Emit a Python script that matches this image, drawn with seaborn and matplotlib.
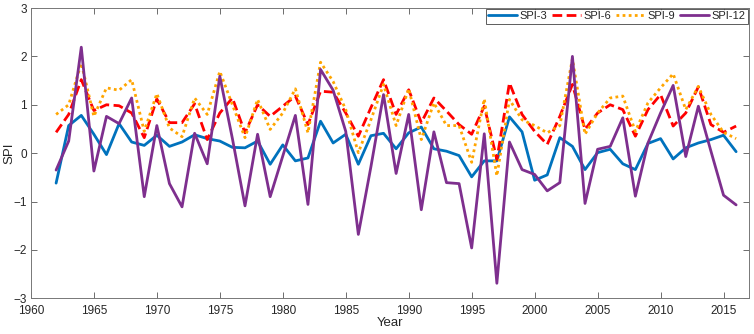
import numpy as np
import pandas as pd
import matplotlib
matplotlib.use("Agg")
import matplotlib.pyplot as plt
import seaborn as sns

# values
years = list(range(1962, 2017))

spi3 = [-0.62, 0.57, 0.78, 0.39, -0.03, 0.61, 0.23, 0.16, 0.37, 0.14,
        0.23, 0.38, 0.30, 0.25, 0.12, 0.11, 0.25, -0.23, 0.17, -0.16,
        -0.10, 0.66, 0.21, 0.39, -0.23, 0.36, 0.41, 0.09, 0.42, 0.54,
        0.09, 0.04, -0.05, -0.49, -0.16, -0.16, 0.75, 0.44, -0.56, -0.45,
        0.32, 0.14, -0.34, 0.01, 0.08, -0.22, -0.34, 0.20, 0.30, -0.12,
        0.11, 0.21, 0.28, 0.37, 0.03]

spi6 = [0.43, 0.80, 1.52, 0.88, 1.00, 0.98, 0.83, 0.32, 1.12, 0.63,
        0.63, 1.02, 0.28, 0.83, 1.14, 0.42, 1.00, 0.76, 0.97, 1.18,
        0.59, 1.28, 1.26, 0.83, 0.35, 0.94, 1.52, 0.80, 1.31, 0.63,
        1.14, 0.87, 0.59, 0.39, 0.97, -0.13, 1.45, 0.80, 0.45, 0.18,
        0.76, 1.42, 0.49, 0.83, 1.00, 0.90, 0.35, 0.90, 1.21, 0.56,
        0.83, 1.37, 0.59, 0.43, 0.56]

spi9 = [0.80, 1.00, 1.86, 0.76, 1.35, 1.30, 1.52, 0.45, 1.23, 0.52,
        0.34, 1.14, 0.80, 1.69, 1.00, 0.32, 1.11, 0.49, 0.83, 1.33,
        0.42, 1.88, 1.48, 0.90, 0.01, 0.69, 1.42, 0.57, 1.33, 0.28,
        1.04, 0.57, 0.57, -0.19, 1.12, -0.47, 1.11, 0.69, 0.57, 0.42,
        0.57, 1.95, 0.39, 0.83, 1.14, 1.18, 0.45, 1.04, 1.35, 1.64,
        0.90, 1.38, 0.80, 0.43, 0.30]

spi12 = [-0.35, 0.25, 2.19, -0.37, 0.76, 0.61, 1.14, -0.90, 0.57, -0.63,
         -1.11, 0.41, -0.22, 1.59, 0.30, -1.09, 0.39, -0.90, -0.06, 0.78,
         -1.06, 1.73, 1.30, 0.45, -1.68, -0.28, 1.21, -0.42, 0.80, -1.17,
         0.44, -0.61, -0.63, -1.96, 0.40, -2.69, 0.23, -0.34, -0.44, -0.78,
         -0.61, 2.00, -1.04, 0.08, 0.14, 0.73, -0.89, 0.21, 0.83, 1.40,
         -0.07, 0.97, 0.04, -0.87, -1.07]

df = pd.DataFrame({"Year": years, "SPI-3": spi3, "SPI-6": spi6,
                   "SPI-9": spi9, "SPI-12": spi12})

sns.set_style("ticks")
plt.rcParams['font.family'] = ['Liberation Sans', 'DejaVu Sans']

fig = plt.figure(figsize=(7.54, 3.34), dpi=100)
ax = fig.add_axes([0.041, 0.107, 0.952, 0.869])

# name -> (colour, linestyle)
styles = {"SPI-3": ("#0072BD", "-"),
          "SPI-6": ("#FF0000", (0, (3.5, 1.6))),
          "SPI-9": ("#FFA500", (0, (1, 1.2))),
          "SPI-12": ("#7E2F8E", "-")}

for name, (col, ls) in styles.items():
    sns.lineplot(data=df, x="Year", y=name, ax=ax, color=col,
                 linestyle=ls, linewidth=2, label=name)

ax.set_xlim(1960, 2017)
ax.set_ylim(-3, 3)
ax.set_xticks(range(1960, 2016, 5))
ax.set_yticks(range(-3, 4))
ax.tick_params(direction="in", length=4, labelsize=8.5, top=True, right=True,
               color="#555555", width=0.6)
ax.tick_params(axis="x", pad=5)
ax.tick_params(axis="y", pad=3)
for sp in ax.spines.values():
    sp.set_color("#777777")
    sp.set_linewidth(0.7)
ax.set_xlabel("Year", fontsize=9.5, labelpad=0)
ax.set_ylabel("SPI", fontsize=9.5)
ax.yaxis.set_label_coords(-0.021, 0.5)

leg = ax.legend(loc="upper right", ncol=4, fontsize=8, frameon=True,
                fancybox=False, edgecolor="#333333", borderpad=0.2,
                handlelength=2.6, columnspacing=0.4, handletextpad=0.25,
                borderaxespad=0.1)
leg.get_frame().set_linewidth(0.7)

fig.savefig("out.png", dpi=100)
